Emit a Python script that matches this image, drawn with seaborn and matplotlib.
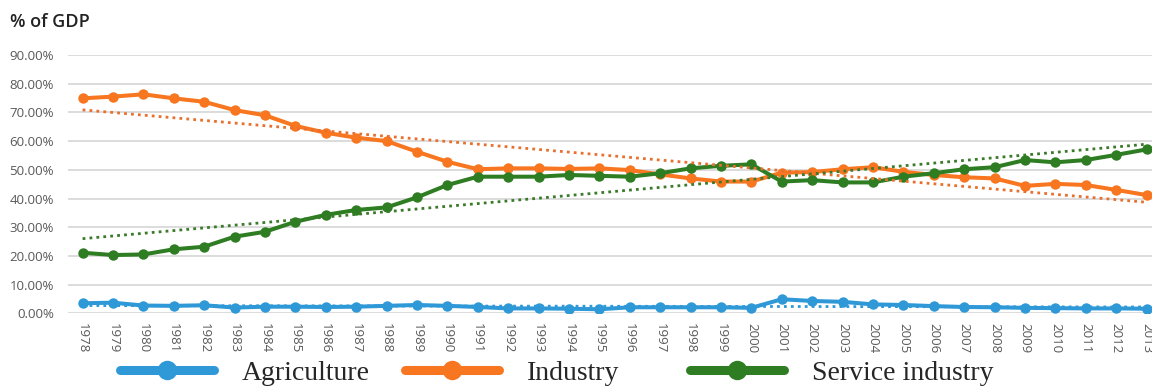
import numpy as np
import pandas as pd
import matplotlib
matplotlib.use("Agg")
import matplotlib.pyplot as plt
from matplotlib.lines import Line2D
from matplotlib.ticker import FuncFormatter, MultipleLocator
import seaborn as sns

years = list(range(1978, 2014))

agriculture = [3.5, 3.7, 2.7, 2.6, 2.8, 2.0, 2.3, 2.3, 2.2, 2.3, 2.6,
               2.9, 2.6, 2.2, 1.7, 1.7, 1.6, 1.4, 2.1, 2.1, 2.1, 2.1, 1.9,
               4.9, 4.3, 4.0, 3.1, 2.9, 2.5, 2.2, 2.1, 1.9, 1.8, 1.7, 1.7, 1.6]

industry = [74.9, 75.5, 76.3, 74.9, 73.7, 70.8, 69.0, 65.3, 62.9, 61.2, 60.0,
            56.3, 52.8, 50.2, 50.5, 50.5, 50.3, 50.5, 49.9, 48.4, 47.0, 45.9, 45.9,
            49.0, 49.2, 50.2, 50.9, 49.3, 48.2, 47.4, 47.0, 44.4, 45.1, 44.7, 43.0, 41.2]

service = [21.1, 20.3, 20.5, 22.3, 23.2, 26.7, 28.4, 31.9, 34.3, 36.0, 36.9,
           40.4, 44.7, 47.6, 47.6, 47.6, 48.2, 47.9, 47.6, 48.8, 50.5, 51.4, 51.9,
           45.9, 46.4, 45.6, 45.6, 47.6, 48.8, 50.2, 50.9, 53.4, 52.6, 53.4, 55.2, 57.1]

series_names = ["Agriculture", "Industry", "Service industry"]
series_values = [agriculture, industry, service]
line_colors = ["#2F98D7", "#F7761F", "#2E7D23"]
trend_colors = ["#2F98D7", "#E8702E", "#3B7A2A"]

df = pd.concat(
    [pd.DataFrame({"year": years, "share": vals, "sector": name})
     for name, vals in zip(series_names, series_values)],
    ignore_index=True,
)

sns.set_theme(style="white")
plt.rcParams["font.family"] = ["Open Sans", "DejaVu Sans"]

W, H = 1152, 386
fig = plt.figure(figsize=(W / 100, H / 100), dpi=100)
ax = fig.add_axes([68 / W, 1 - 313.3 / H, 1 - 68 / W, (313.3 - 55) / H])

for name, color in zip(series_names, line_colors):
    sub = df[df["sector"] == name]
    sns.lineplot(data=sub, x="year", y="share", ax=ax, color=color,
                 lw=2.9, marker="o", markersize=7.5, markeredgewidth=0,
                 legend=False, zorder=3)

# linear trend lines
for name, color in zip(series_names, trend_colors):
    sub = df[df["sector"] == name]
    sns.regplot(data=sub, x="year", y="share", ax=ax, scatter=False, ci=None,
                truncate=True,
                line_kws=dict(color=color, lw=2.0, ls=(0, (1, 1.5)), zorder=4))

ax.set_xlim(1977.52, 2013.18)
ax.set_ylim(0, 90)
ax.yaxis.set_major_locator(MultipleLocator(10))
ax.yaxis.set_major_formatter(FuncFormatter(lambda v, p: f"{v:.2f}%"))
ax.set_xticks(years)
ax.set_xticklabels([str(y) for y in years], rotation=270, ha="center", va="top")
ax.tick_params(axis="x", labelsize=9.5, colors="#595959", pad=7, length=0)
ax.tick_params(axis="y", labelsize=9.5, colors="#595959", pad=10, length=0)
ax.grid(axis="y", color="#d9d9d9", lw=1.3)
ax.grid(axis="x", visible=False)
for s in ax.spines.values():
    s.set_visible(False)
ax.set_xlabel("")
ax.set_ylabel("")

fig.text(10 / W, 1 - 22 / H, "% of GDP", fontsize=13, color="#222222",
         fontweight="semibold", ha="left", va="center")

# legend entries at evenly spaced slots
for i, (name, color) in enumerate(zip(series_names, line_colors)):
    h = Line2D([], [], color=color, lw=6.5, marker="o", markersize=14,
               markeredgewidth=0, solid_capstyle="round")
    fig.legend(handles=[h], labels=[name], loc="center left",
               bbox_to_anchor=((120 + 285 * i) / W, 1 - 373 / H),
               frameon=False, borderpad=0, borderaxespad=0,
               handlelength=3.4, handletextpad=1.0,
               prop=dict(family="Liberation Serif", size=20))

fig.savefig("out.png", dpi=100)
